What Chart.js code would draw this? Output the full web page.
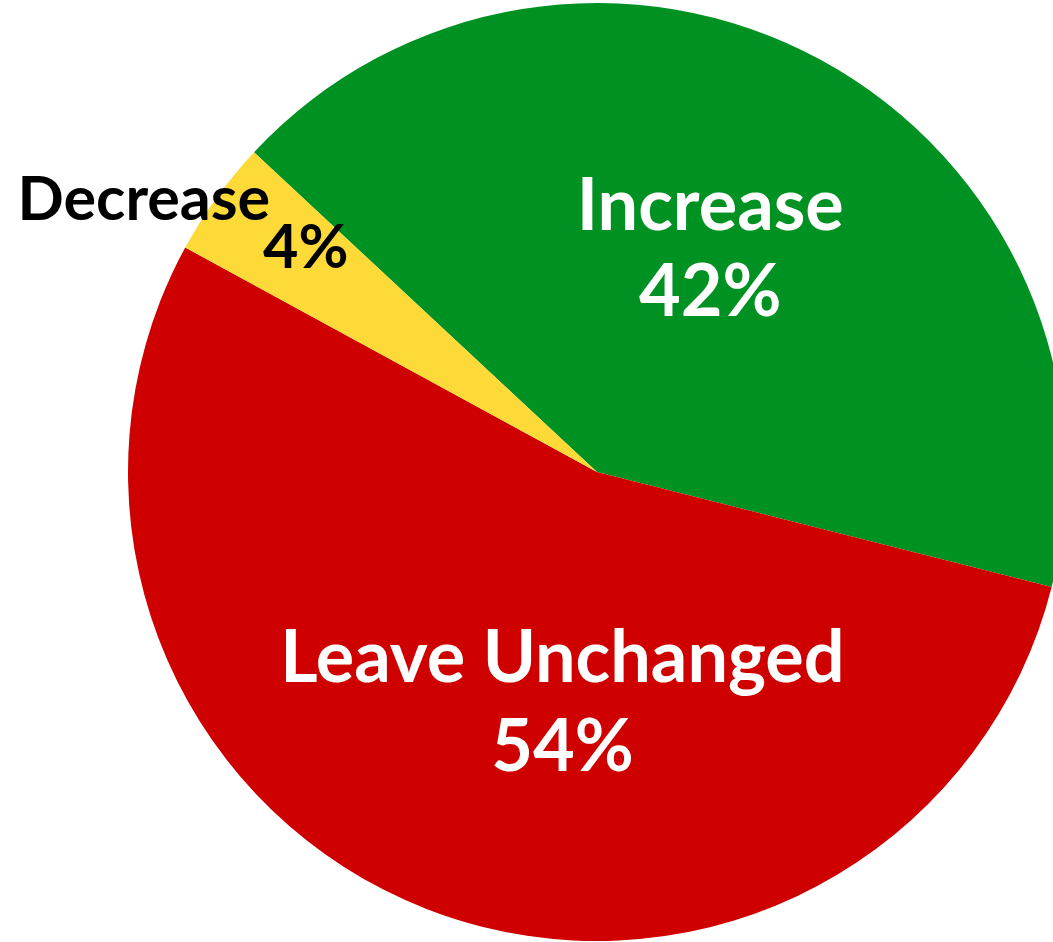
<!DOCTYPE html>
<html>
<head>
<meta charset="utf-8">
<script src="https://cdn.jsdelivr.net/npm/chart.js@4/dist/chart.umd.min.js"></script>
<style>
  html, body { margin: 0; padding: 0; background: #fff; overflow: hidden; }
  #wrap { position: relative; width: 1053px; height: 942px; overflow: hidden; }
  #pie { position: absolute; left: 0; top: 0; }
</style>
</head>
<body>
<div id="wrap"><canvas id="pie" width="1194" height="944"></canvas></div>
<script>
const categories = ["Increase", "Leave Unchanged", "Decrease"];
const shares = [42, 54, 4];
const sliceColors = ["#009123", "#CE0000", "#FDDA38"];
const textColors = ["#ffffff", "#ffffff", "#000000"];

// nudges from each slice's centre point, [name line, percent line], font size
const labelSpots = [
    { name: [1, -36], pct: [1, 50], size: 72 },
    { name: [51, -8], pct: [51, 81], size: 72 },
    { name: [-263, -115], pct: [-101, -67], size: 61 }
];

const sliceLabels = {
    id: "sliceLabels",
    afterDatasetsDraw(chart) {
        const ctx = chart.ctx;
        const arcs = chart.getDatasetMeta(0).data;
        ctx.save();
        ctx.textAlign = "center";
        ctx.textBaseline = "alphabetic";
        arcs.forEach((arc, i) => {
            const c = arc.getCenterPoint();
            const spot = labelSpots[i];
            ctx.fillStyle = textColors[i];
            ctx.font = "bold " + spot.size + "px Lato";
            ctx.fillText(categories[i], c.x + spot.name[0], c.y + spot.name[1]);
            ctx.fillText(shares[i] + "%", c.x + spot.pct[0], c.y + spot.pct[1]);
        });
        ctx.restore();
    }
};

new Chart(document.getElementById("pie"), {
    type: "pie",
    data: {
        labels: categories,
        datasets: [{
            data: shares,
            backgroundColor: sliceColors,
            borderWidth: 0
        }]
    },
    options: {
        responsive: false,
        devicePixelRatio: 1,
        animation: false,
        rotation: 313,
        layout: { padding: 3 },
        plugins: {
            legend: { display: false },
            tooltip: { enabled: false }
        }
    },
    plugins: [sliceLabels]
});
</script>
</body>
</html>
